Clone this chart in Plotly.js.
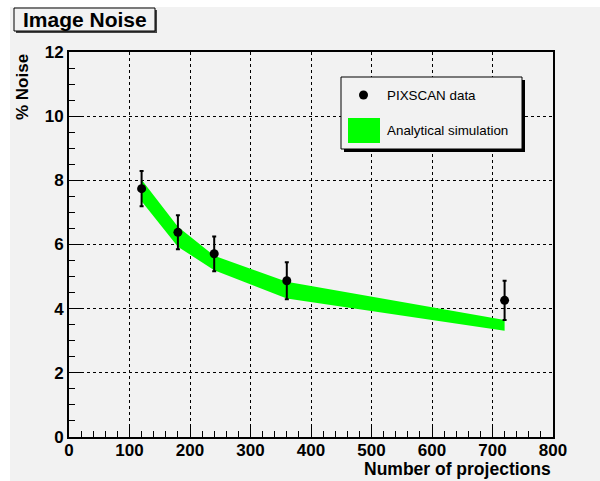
<!DOCTYPE html>
<html>
<head>
<meta charset="utf-8">
<script src="https://cdn.plot.ly/plotly-3.0.1.min.js"></script>
<style>html,body{margin:0;padding:0;background:#fff;}#chart{width:600px;height:481px;}</style>
</head>
<body>
<div id="chart"></div>
<script>
// Measured data (PIXSCAN)
var projections = [120, 180, 240, 360, 720];
var noise = [7.74, 6.38, 5.71, 4.87, 4.26];
var noiseErr = [0.55, 0.53, 0.54, 0.58, 0.61];

// Analytical simulation band
var simProjections = [120, 180, 240, 360, 720];
var simUpper = [8.02, 6.55, 5.65, 4.84, 3.65];
var simLower = [7.35, 5.93, 5.20, 4.32, 3.31];

var xTicks = [0, 100, 200, 300, 400, 500, 600, 700, 800];
var yTicks = [0, 2, 4, 6, 8, 10, 12];

// layout geometry (pixels)
var W = 600, H = 481, L = 69, R = 47, T = 52, B = 44;
var PW = W - L - R, PH = H - T - B;
function px(x) { return (x - L) / PW; }
function py(y) { return (H - B - y) / PH; }

var bandX = simProjections.concat(simProjections.slice().reverse());
var bandY = simUpper.concat(simLower.slice().reverse());

var traces = [
  {
    x: bandX, y: bandY, type: 'scatter', mode: 'lines',
    fill: 'toself', fillcolor: '#00ff00', line: {width: 0, color: '#00ff00'},
    hoverinfo: 'skip', name: 'Analytical simulation'
  },
  {
    x: projections, y: noise, type: 'scatter', mode: 'markers',
    marker: {color: 'black', size: 9},
    error_y: {type: 'data', array: noiseErr, visible: true, color: 'black', thickness: 2, width: 2},
    name: 'PIXSCAN data'
  }
];

var tickFont = {family: 'Liberation Sans, Arial, sans-serif', size: 17, color: 'black', weight: 'bold'};

var layout = {
  width: W, height: H,
  margin: {l: L, r: R, t: T, b: B, pad: 0},
  paper_bgcolor: '#ffffff',
  plot_bgcolor: '#f2f2f2',
  showlegend: false,
  xaxis: {
    range: [0, 800], tickvals: xTicks, ticktext: xTicks.map(String),
    ticks: 'inside', ticklen: 12, tickwidth: 1, tickcolor: 'black',
    minor: {dtick: 20, ticklen: 6, tickwidth: 1, tickcolor: 'black', ticks: 'inside', showgrid: false},
    showline: true, linecolor: 'black', linewidth: 2, mirror: true,
    showgrid: true, gridcolor: 'black', griddash: 'dot', gridwidth: 1,
    zeroline: false, tickfont: tickFont, ticklabelstandoff: -3, fixedrange: true
  },
  yaxis: {
    range: [0, 12], tickvals: yTicks, ticktext: yTicks.map(String),
    ticks: 'inside', ticklen: 12, tickwidth: 1, tickcolor: 'black',
    minor: {dtick: 0.5, ticklen: 6, tickwidth: 1, tickcolor: 'black', ticks: 'inside', showgrid: false},
    showline: true, linecolor: 'black', linewidth: 2, mirror: true,
    showgrid: true, gridcolor: 'black', griddash: 'dot', gridwidth: 1,
    zeroline: false, tickfont: tickFont, fixedrange: true
  },
  shapes: [
    // grey canvas
    {type: 'rect', xref: 'paper', yref: 'paper', layer: 'below',
     x0: px(10), x1: px(600), y0: py(7), y1: py(481),
     fillcolor: '#f2f2f2', line: {width: 0}},
    // title box shadow + box
    {type: 'rect', xref: 'paper', yref: 'paper',
     x0: px(16), x1: px(157), y0: py(10), y1: py(33),
     fillcolor: '#444444', line: {width: 0}},
    {type: 'rect', xref: 'paper', yref: 'paper',
     x0: px(14), x1: px(155), y0: py(8), y1: py(31),
     fillcolor: '#f2f2f2', line: {width: 1, color: 'black'}},
    // legend box shadow + box
    {type: 'rect', xref: 'paper', yref: 'paper',
     x0: px(344), x1: px(525), y0: py(80), y1: py(152),
     fillcolor: 'black', line: {width: 0}},
    {type: 'rect', xref: 'paper', yref: 'paper',
     x0: px(341), x1: px(522), y0: py(77), y1: py(149),
     fillcolor: '#f2f2f2', line: {width: 1, color: 'black'}},
    // legend symbols
    {type: 'circle', xref: 'paper', yref: 'paper',
     x0: px(359), x1: px(368), y0: py(90.5), y1: py(99.5),
     fillcolor: 'black', line: {width: 0}},
    {type: 'rect', xref: 'paper', yref: 'paper',
     x0: px(348), x1: px(380), y0: py(118), y1: py(143),
     fillcolor: '#00ff00', line: {width: 0}}
  ],
  annotations: [
    {text: 'Image Noise', xref: 'paper', yref: 'paper', x: px(84.5), y: py(19.5),
     xanchor: 'center', yanchor: 'middle', showarrow: false,
     font: {family: 'Liberation Sans, Arial, sans-serif', size: 21, color: 'black', weight: 'bold'}},
    {text: 'PIXSCAN data', xref: 'paper', yref: 'paper', x: px(385), y: py(95),
     xanchor: 'left', yanchor: 'middle', showarrow: false,
     font: {family: 'Liberation Sans, Arial, sans-serif', size: 13.4, color: 'black'}},
    {text: 'Analytical simulation', xref: 'paper', yref: 'paper', x: px(385), y: py(130.5),
     xanchor: 'left', yanchor: 'middle', showarrow: false,
     font: {family: 'Liberation Sans, Arial, sans-serif', size: 13.4, color: 'black'}},
    {text: 'Number of projections', xref: 'paper', yref: 'paper', x: px(553), y: py(468.5),
     xanchor: 'right', yanchor: 'middle', showarrow: false,
     font: {family: 'Liberation Sans, Arial, sans-serif', size: 17.5, color: 'black', weight: 'bold'}},
    {text: '% Noise', xref: 'paper', yref: 'paper', x: px(22), y: py(52),
     xanchor: 'center', yanchor: 'top', textangle: -90, showarrow: false,
     font: {family: 'Liberation Sans, Arial, sans-serif', size: 17, color: 'black', weight: 'bold'}}
  ]
};

Plotly.newPlot('chart', traces, layout, {displayModeBar: false, staticPlot: true});
</script>
</body>
</html>
